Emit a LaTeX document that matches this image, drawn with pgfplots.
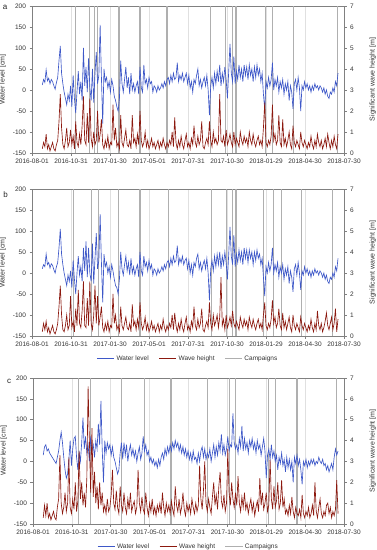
\documentclass[border=0pt]{standalone}
\usepackage{pgfplots}
\pgfplotsset{compat=1.18}
\usepackage{pgfplotstable}
\usepackage{fontspec}
\setmainfont{Liberation Sans}
\definecolor{wlcol}{RGB}{62,88,200}
\definecolor{whcol}{RGB}{140,25,15}
\definecolor{campcol}{RGB}{175,175,175}
\definecolor{gridcol}{RGB}{224,224,224}

\pgfplotstableread{
day wl wh
24 12 0.2
27 25 0.5
30 18 0.3
33 48 0.9
36 22 0.2
39 28 0.4
42 15 0.1
45 25 0.3
48 20 0.5
51 10 0.2
54 2 0.1
57 18 0.4
60 30 0.6
63 70 1.5
66 105 2.8
69 40 1.2
72 15 0.4
75 -5 0.2
78 -20 0.6
81 -35 1.2
84 -10 0.3
87 -25 0.5
90 10 1.1
93 -40 0.4
96 35 0.8
99 -20 0.2
102 -55 1.5
105 -5 0.5
108 45 0.3
111 -10 0.9
114 20 0.4
117 -25 1.3
120 100 2.7
123 10 0.6
126 55 0.4
129 -5 1.9
132 75 0.5
135 5 2.6
138 -25 0.7
141 50 0.3
144 -30 1.0
147 40 0.4
150 90 0.6
153 15 2.0
156 35 0.5
159 155 0.9
162 30 1.6
165 -80 0.4
168 50 0.2
171 20 0.6
174 30 0.3
177 5 0.8
180 20 0.2
183 -5 0.5
186 25 0.4
189 10 2.3
192 -15 0.6
195 -25 1.2
198 -40 0.3
201 -50 0.5
204 -20 0.2
207 70 1.8
210 15 0.5
213 -5 0.3
216 25 0.7
219 55 1.1
222 5 0.4
225 30 0.3
228 -10 0.6
231 40 0.2
234 0 1.8
237 15 0.5
240 -5 0.7
243 10 0.3
246 20 0.9
249 -10 0.4
252 55 2.0
255 5 0.6
258 -5 0.3
261 60 0.5
264 15 1.0
267 25 0.3
270 5 0.6
273 30 0.2
276 15 0.4
279 20 0.7
282 -5 0.3
285 10 0.5
288 5 0.2
291 -5 0.4
294 10 0.6
297 0 0.2
300 5 0.5
303 15 0.3
306 5 0.7
309 20 0.4
312 10 0.2
315 25 0.5
318 30 0.3
321 15 0.6
324 35 0.4
327 20 1.0
330 40 0.3
333 25 1.7
336 30 0.5
339 65 0.2
342 20 0.6
345 35 0.3
348 25 0.8
351 40 0.4
354 20 0.2
357 30 0.6
360 40 0.9
363 15 0.3
366 35 0.5
369 5 0.2
372 20 0.7
375 -5 0.4
378 25 1.3
381 15 0.5
384 35 0.3
387 50 0.8
390 10 0.4
393 25 0.6
396 5 1.5
399 20 0.3
402 30 0.2
405 10 0.5
408 35 0.7
411 0 0.4
414 -60 1.5
417 10 0.6
420 30 0.3
423 5 1.0
426 40 0.5
429 15 0.7
432 45 0.4
435 20 0.6
438 60 2.8
441 10 0.6
444 40 0.5
447 20 0.8
450 55 0.3
453 25 1.1
456 -20 0.4
459 45 0.6
462 110 0.9
465 40 0.5
468 20 0.3
471 80 1.0
474 15 0.4
477 45 0.7
480 25 0.5
483 60 0.3
486 30 1.0
489 50 0.6
492 20 0.4
495 60 0.8
498 35 0.5
501 55 0.7
504 25 0.3
507 60 1.0
510 35 0.6
513 50 0.4
516 20 0.9
519 55 0.5
522 30 0.3
525 60 0.6
528 35 0.8
531 50 0.4
534 20 0.6
537 40 0.3
540 -10 1.2
543 -45 2.4
546 20 0.5
549 5 0.3
552 30 0.6
555 10 0.4
558 25 0.8
561 65 2.3
564 0 0.6
567 25 0.9
570 10 0.4
573 30 0.6
576 -5 1.8
579 20 0.5
582 5 0.3
585 25 1.6
588 -10 0.4
591 15 0.7
594 0 0.3
597 20 0.6
600 -25 1.0
603 10 0.4
606 -5 0.2
609 -45 1.3
612 15 0.5
615 25 0.3
618 0 0.6
621 30 0.4
624 5 0.2
627 -50 1.0
630 10 0.5
633 0 0.3
636 20 0.6
639 5 0.4
642 15 0.2
645 0 0.5
648 10 0.3
651 -5 0.8
654 10 0.4
657 0 0.2
660 15 0.6
663 5 0.3
666 10 0.9
669 0 0.5
672 10 0.3
675 5 0.6
678 -5 0.2
681 5 0.4
684 -10 0.7
687 0 0.3
690 -15 0.9
693 -20 0.5
696 -5 0.2
699 -10 0.6
702 5 0.3
705 -5 0.8
708 20 0.4
711 10 0.2
714 40 0.9
}\tabA

\pgfplotstableread{
day wl wh
24 10 0.2
27 20 0.6
30 15 0.3
33 45 0.7
36 20 0.2
39 25 0.4
42 12 0.1
45 22 0.3
48 18 0.5
51 8 0.2
54 0 0.1
57 15 0.3
60 25 0.6
63 60 1.4
66 105 2.4
69 45 1.0
72 20 0.3
75 0 0.2
78 -15 0.5
81 -30 1.0
84 -5 0.3
87 -20 0.5
90 5 1.9
93 -35 0.4
96 30 0.7
99 -15 0.2
102 -50 1.3
105 0 0.5
108 40 2.2
111 -5 0.6
114 15 0.4
117 -20 1.2
120 60 2.6
123 5 0.5
126 75 0.4
129 -10 1.8
132 60 0.5
135 0 2.6
138 -20 0.6
141 70 0.3
144 -25 1.0
147 35 2.4
150 95 0.6
153 10 1.9
156 30 0.5
159 140 0.9
162 25 1.4
165 -70 0.4
168 45 0.2
171 15 0.6
174 25 0.3
177 0 0.7
180 15 0.2
183 -10 0.5
186 20 0.4
189 5 2.0
192 -15 0.6
195 -30 1.0
198 -35 0.3
201 -50 0.5
204 -15 0.2
207 50 1.4
210 10 0.5
213 -5 0.3
216 20 0.6
219 40 0.9
222 5 0.4
225 25 0.3
228 -5 0.6
231 35 0.2
234 0 1.5
237 15 0.5
240 -5 0.7
243 10 0.3
246 20 0.8
249 -10 0.4
252 50 1.6
255 5 0.6
258 -5 0.3
261 40 0.5
264 15 0.9
267 25 0.3
270 5 0.6
273 30 0.2
276 10 0.4
279 20 0.7
282 -5 0.3
285 10 0.5
288 5 0.2
291 -5 0.4
294 10 0.6
297 0 0.2
300 5 0.5
303 15 0.3
306 5 0.8
309 20 0.4
312 10 0.2
315 25 0.5
318 30 0.3
321 15 0.6
324 35 0.4
327 20 1.0
330 40 0.3
333 25 1.1
336 30 0.5
339 65 0.2
342 20 0.6
345 35 0.3
348 25 0.8
351 40 0.4
354 20 0.2
357 30 0.6
360 35 0.9
363 10 0.3
366 30 0.5
369 0 0.2
372 20 0.7
375 -5 0.4
378 25 1.4
381 15 0.5
384 35 0.3
387 45 0.8
390 10 0.4
393 25 0.6
396 5 1.3
399 20 0.3
402 30 0.2
405 10 0.5
408 35 0.7
411 0 0.4
414 -65 1.6
417 10 0.6
420 30 0.3
423 5 1.0
426 40 0.5
429 15 0.7
432 45 1.0
435 20 0.4
438 50 0.9
441 10 2.8
444 40 0.5
447 20 0.8
450 50 0.3
453 25 1.0
456 -15 0.4
459 45 0.6
462 110 0.9
465 40 0.5
468 20 1.2
471 90 0.6
474 15 0.4
477 45 0.7
480 25 0.5
483 55 0.3
486 30 0.9
489 50 0.6
492 20 0.4
495 60 0.8
498 35 0.5
501 55 0.7
504 25 0.3
507 55 0.9
510 35 0.6
513 50 0.4
516 20 0.8
519 50 0.5
522 30 0.3
525 55 0.6
528 35 0.8
531 45 0.4
534 20 0.6
537 35 0.3
540 -10 1.0
543 -55 1.6
546 15 0.5
549 0 0.3
552 25 0.6
555 5 0.4
558 20 0.8
561 60 1.7
564 0 0.6
567 20 0.9
570 5 0.4
573 25 0.6
576 -10 1.3
579 15 0.5
582 0 0.3
585 20 1.1
588 -15 0.4
591 10 0.7
594 -5 0.3
597 15 0.6
600 -25 0.9
603 5 0.4
606 -10 0.2
609 -45 1.0
612 10 0.5
615 20 0.3
618 -5 0.6
621 25 0.4
624 0 0.2
627 -40 0.9
630 5 0.5
633 -5 0.3
636 15 0.6
639 0 0.4
642 10 0.2
645 -5 0.5
648 5 0.3
651 -10 0.8
654 5 0.4
657 -5 0.2
660 10 0.6
663 0 0.3
666 5 1.2
669 -5 0.5
672 5 0.3
675 0 0.6
678 -10 0.2
681 0 0.4
684 -15 0.7
687 -5 1.1
690 -20 0.5
693 -25 0.3
696 -10 0.6
699 -15 0.9
702 0 0.3
705 -10 0.6
708 15 1.3
711 5 0.2
714 35 0.8
}\tabB

\pgfplotstableread{
day wl wh
24 15 0.3
27 35 0.9
30 40 0.4
33 25 1.0
36 30 0.3
39 20 0.5
42 15 0.2
45 10 0.4
48 5 0.6
51 0 0.3
54 -5 0.2
57 10 0.8
60 25 1.2
63 50 3.3
66 70 1.0
69 45 0.5
72 10 0.8
75 -20 1.5
78 -40 0.6
81 -30 1.0
84 5 3.2
87 50 0.8
90 -10 0.5
93 30 1.2
96 55 0.7
99 60 2.0
102 10 0.6
105 -20 1.1
108 20 3.5
111 0 1.2
114 45 2.0
117 105 0.9
120 30 1.5
123 60 0.8
126 20 2.2
129 40 6.6
132 0 4.0
135 60 1.5
138 25 4.6
141 40 1.3
144 10 2.5
147 50 1.0
150 30 1.8
153 90 0.7
156 40 2.0
159 145 0.9
162 30 1.5
165 -50 0.6
168 50 0.9
171 20 0.5
174 45 1.2
177 30 0.6
180 40 0.8
183 15 1.4
186 35 2.6
189 10 1.0
192 0 0.7
195 -15 1.6
198 -30 0.8
201 -20 0.5
204 20 1.8
207 45 0.9
210 5 0.6
213 45 1.5
216 15 0.8
219 40 0.5
222 0 1.2
225 25 0.7
228 40 1.5
231 15 0.6
234 30 0.9
237 10 1.1
240 25 0.5
243 0 0.8
246 20 2.6
249 35 1.0
252 5 0.6
255 20 1.3
258 60 0.7
261 25 0.5
264 40 1.5
267 15 0.8
270 25 0.4
273 0 1.0
276 10 0.6
279 -5 1.2
282 5 0.5
285 -10 0.8
288 0 0.4
291 -15 0.9
294 5 0.6
297 -10 1.0
300 10 0.5
303 20 1.5
306 5 0.8
309 30 0.4
312 15 1.0
315 35 0.6
318 20 0.9
321 40 0.5
324 25 1.1
327 45 0.7
330 30 0.4
333 50 1.8
336 35 0.9
339 45 0.6
342 25 1.2
345 40 0.5
348 20 0.8
351 35 1.5
354 15 0.7
357 30 0.4
360 10 1.0
363 25 0.6
366 5 0.9
369 20 0.5
372 0 1.2
375 25 0.8
378 5 0.5
381 10 1.0
384 -5 0.6
387 20 0.9
390 0 2.8
393 25 1.2
396 35 0.7
399 10 1.6
402 30 3.0
405 5 1.0
408 20 0.6
411 10 1.2
414 30 0.8
417 0 0.5
420 20 1.3
423 40 2.0
426 10 0.9
429 35 1.4
432 15 0.7
435 45 1.8
438 25 2.5
441 65 1.1
444 20 0.8
447 40 1.4
450 15 0.6
453 30 1.0
456 60 3.6
459 25 1.5
462 40 0.9
465 35 2.0
468 115 1.2
471 45 0.8
474 30 1.5
477 40 0.9
480 20 2.3
483 55 1.0
486 35 0.6
489 85 1.3
492 25 0.8
495 55 1.5
498 30 0.7
501 45 1.0
504 20 0.5
507 50 0.9
510 35 1.2
513 55 0.6
516 30 1.0
519 45 0.4
522 20 0.8
525 50 1.1
528 30 0.6
531 40 2.2
534 15 0.9
537 35 1.5
540 55 0.7
543 25 1.0
546 -40 1.5
549 15 0.6
552 30 0.9
555 5 3.1
558 40 1.2
561 10 0.7
564 25 1.8
567 0 0.8
570 15 1.1
573 -20 2.0
576 10 0.7
579 -5 1.0
582 20 2.1
585 -10 0.8
588 5 1.2
591 -25 0.5
594 10 0.7
597 -15 0.4
600 5 0.9
603 -20 0.5
606 0 1.3
609 -50 0.6
612 10 0.3
615 -5 0.8
618 15 0.5
621 -10 0.4
624 5 0.7
627 -20 0.3
630 -55 1.4
633 0 0.5
636 -10 0.3
639 5 0.6
642 -15 0.4
645 0 0.8
648 -10 0.3
651 5 0.5
654 -5 0.9
657 5 0.4
660 -10 2.0
663 0 0.6
666 -5 0.3
669 10 0.8
672 0 1.2
675 -5 0.5
678 5 0.3
681 -10 0.6
684 -5 0.4
687 -20 0.9
690 -10 1.0
693 -25 0.5
696 -15 0.8
699 -5 0.3
702 -20 0.6
705 10 0.4
708 30 0.7
711 15 2.1
714 25 0.5
}\tabC

\pgfplotsset{
  base/.style={
    scale only axis, width=312pt, height=147pt,
    xmin=0, xmax=728,
    xtick={0,91,182,273,364,455,546,637,728},
    tick label style={font=\fontsize{6.5}{7.5}\selectfont, text=black!80},
    label style={font=\fontsize{7}{8}\selectfont, text=black!80},
    /pgf/number format/assume math mode=true,
    axis line style={black!50, line width=0.5pt},
    tick style={black!50, line width=0.5pt},
    tick align=outside, major tick length=2.5pt,
  },
  leftax/.style={base,
    ymin=-150, ymax=200, ytick={-150,-100,...,200},
    xticklabels={2016-08-01,2016-10-31,2017-01-30,2017-05-01,2017-07-31,2017-10-30,2018-01-29,2018-04-30,2018-07-30},
    xtick pos=bottom, ytick pos=left,
    xmajorgrids, major grid style={gridcol, line width=0.5pt},
    ylabel={Water level [cm]},
    ylabel style={at={(axis description cs:-0.072,0.5)}, anchor=south},
    extra x tick labels={},
    extra x tick style={grid=major, major grid style={campcol, line width=1.1pt}, major tick length=0pt},
  },
  rightax/.style={base,
    axis y line*=right, axis x line=none,
    ymin=0, ymax=7, ytick={0,1,...,7},
    ylabel={Significant wave height [m]},
    ylabel style={at={(axis description cs:1.0705,0.5)}, anchor=north},
  },
  legstyle/.style={
    legend style={at={(axis description cs:0.5,-0.105)}, anchor=north, draw=none, fill=none,
      font=\fontsize{6.5}{7.5}\selectfont, text=black!80, legend columns=3,
      /tikz/every even column/.append style={column sep=8pt}},
    legend cell align=left,
  },
}

\begin{document}
\begin{tikzpicture}
\useasboundingbox (0pt,0pt) rectangle (377pt,-550pt);

% ---------- panel a ----------
\begin{axis}[leftax, at={(32pt,-6pt)}, anchor=north west,
  extra x ticks={101,135,145,152,203,252,315,417,452,468,476,544,562,611,713}]
\addplot[wlcol, line width=0.65pt] table[x=day, y=wl] {\tabA};
\end{axis}
\begin{axis}[rightax, at={(32pt,-6pt)}, anchor=north west]
\addplot[whcol, line width=0.65pt] table[x=day, y=wh] {\tabA};
\end{axis}
\node[font=\fontsize{8}{9}\selectfont, text=black!85] at (5pt,-7pt) {a};

% ---------- panel b ----------
\begin{axis}[leftax, at={(32pt,-189pt)}, anchor=north west,
  extra x ticks={96,139,155,202,252,318,418,453,467,476,541,563,583,628,702}]
\addplot[wlcol, line width=0.65pt] table[x=day, y=wl] {\tabB};
\end{axis}
\begin{axis}[rightax, legstyle, at={(32pt,-189pt)}, anchor=north west]
\addlegendimage{wlcol, line width=0.8pt}
\addlegendentry{Water level}
\addlegendimage{whcol, line width=0.8pt}
\addlegendentry{Wave height}
\addlegendimage{campcol, line width=0.8pt}
\addlegendentry{Campaigns}
\addplot[whcol, line width=0.65pt, forget plot] table[x=day, y=wh] {\tabB};
\end{axis}
\node[font=\fontsize{8}{9}\selectfont, text=black!85] at (5.5pt,-195pt) {b};

% ---------- panel c ----------
\begin{axis}[leftax, at={(33pt,-378pt)}, anchor=north west, width=311pt, height=146pt,
  extra x ticks={107,135,207,261,323,409,459,475,551,567,618,710}]
\addplot[wlcol, line width=0.65pt] table[x=day, y=wl] {\tabC};
\end{axis}
\begin{axis}[rightax, legstyle, at={(33pt,-378pt)}, anchor=north west, width=311pt, height=146pt]
\addlegendimage{wlcol, line width=0.8pt}
\addlegendentry{Water level}
\addlegendimage{whcol, line width=0.8pt}
\addlegendentry{Wave height}
\addlegendimage{campcol, line width=0.8pt}
\addlegendentry{Campaigns}
\addplot[whcol, line width=0.65pt, forget plot] table[x=day, y=wh] {\tabC};
\end{axis}
\node[font=\fontsize{8}{9}\selectfont, text=black!85] at (9pt,-381pt) {c};
\end{tikzpicture}
\end{document}
